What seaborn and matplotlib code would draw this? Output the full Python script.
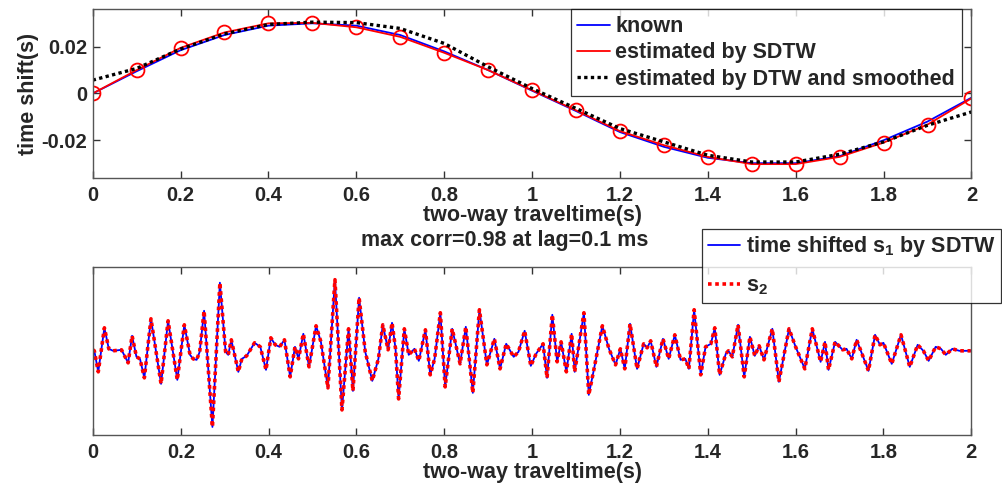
import matplotlib
matplotlib.use("Agg")
import matplotlib.pyplot as plt
import seaborn as sns

# ---- top panel: time shift curves (s) sampled every 0.1 s ----
shift_time = [0.0, 0.1, 0.2, 0.3, 0.4, 0.5, 0.6, 0.7, 0.8, 0.9, 1.0,
              1.1, 1.2, 1.3, 1.4, 1.5, 1.6, 1.7, 1.8, 1.9, 2.0]
known_shift = [0.0, 0.0095, 0.0185, 0.0250, 0.0290, 0.0300, 0.0290, 0.0250,
               0.0180, 0.0100, 0.0012, -0.0075, -0.0165, -0.0228, -0.0275,
               -0.0298, -0.0298, -0.0268, -0.0200, -0.0120, -0.0018]
sdtw_shift = [0.0, 0.0100, 0.0195, 0.0261, 0.0300, 0.0302, 0.0283, 0.0242,
              0.0174, 0.0100, 0.0014, -0.0072, -0.0161, -0.0221, -0.0271,
              -0.0302, -0.0302, -0.0271, -0.0210, -0.0133, -0.0021]
dtw_shift = [0.0057, 0.0107, 0.0190, 0.0255, 0.0295, 0.0305, 0.0303, 0.0278,
             0.0214, 0.0114, 0.0021, -0.0064, -0.0150, -0.0207, -0.0264,
             -0.0293, -0.0293, -0.0260, -0.0207, -0.0136, -0.0079]

shift_xticks = [0, 0.2, 0.4, 0.6, 0.8, 1.0, 1.2, 1.4, 1.6, 1.8, 2.0]
shift_xticklabels = ["0", "0.2", "0.4", "0.6", "0.8", "1", "1.2", "1.4", "1.6", "1.8", "2"]
shift_yticks = [-0.02, 0, 0.02]
shift_yticklabels = ["-0.02", "0", "0.02"]

# ---- bottom panel: trace turning points (arbitrary amplitude) ----
trace_time = [
    0.000, 0.003, 0.012, 0.026, 0.036, 0.046, 0.065, 0.080, 0.089, 0.099,
    0.107, 0.117, 0.132, 0.155, 0.171, 0.192, 0.208, 0.221, 0.228, 0.236,
    0.243, 0.253, 0.272, 0.289, 0.302, 0.308, 0.315, 0.331, 0.339, 0.350,
    0.368, 0.381, 0.394, 0.405, 0.415, 0.425, 0.436, 0.449, 0.460, 0.468,
    0.479, 0.492, 0.508, 0.519, 0.535, 0.551, 0.567, 0.582, 0.592, 0.606,
    0.620, 0.636, 0.650, 0.660, 0.672, 0.681, 0.689, 0.696, 0.709, 0.719,
    0.732, 0.742, 0.757, 0.768, 0.778, 0.791, 0.802, 0.818, 0.836, 0.849,
    0.865, 0.880, 0.897, 0.914, 0.927, 0.941, 0.958, 0.969, 0.983, 0.997,
    1.009, 1.025, 1.034, 1.046, 1.057, 1.066, 1.078, 1.090, 1.097, 1.118,
    1.129, 1.141, 1.160, 1.175, 1.190, 1.201, 1.211, 1.223, 1.239, 1.254,
    1.262, 1.270, 1.283, 1.298, 1.311, 1.325, 1.338, 1.349, 1.357, 1.369,
    1.384, 1.395, 1.407, 1.416, 1.427, 1.441, 1.447, 1.456, 1.469, 1.483,
    1.496, 1.507, 1.517, 1.528, 1.547, 1.562, 1.585, 1.600, 1.621, 1.638,
    1.657, 1.667, 1.675, 1.690, 1.707, 1.716, 1.728, 1.739, 1.766, 1.781,
    1.792, 1.800, 1.819, 1.840, 1.860, 1.878, 1.891, 1.903, 1.919, 1.931,
    1.942, 1.957, 1.973, 1.999,
]
trace_amp = [
    1, 0, -21, 23, 2, 0, 1, -12, 15, -6,
    -8, -27, 32, -33, 30, -29, 26, -4, -8, -9,
    -1, 40, -76, 68, -1, -4, 11, -21, -8, -5,
    8, 4, -19, 13, 6, 4, 11, -26, 4, -8,
    17, -16, 25, 9, -37, 71, -59, 22, -40, 53,
    -1, -30, -8, 26, 1, 28, 2, -48, 22, -4,
    2, -10, 21, -24, -8, 38, -36, 22, -13, 24,
    -42, 41, -14, 12, -18, 7, -6, -1, 20, -15,
    -3, 7, -27, 36, -11, 9, -21, 17, -21, 38,
    -44, -18, 25, 2, -14, 2, -18, 27, -18, 7,
    3, 10, -16, 12, -8, 16, -9, -8, -18, 41,
    -24, 4, 7, 23, -24, -3, 0, -6, 26, -26,
    14, -5, 5, -9, 22, -31, 22, 4, -18, 22,
    -11, 9, -19, 9, 1, 2, -8, 11, -20, 16,
    6, 8, -13, 16, -16, 6, 0, -10, 4, 2,
    -4, 2, 0, 0,
]

sns.set_style("white")
plt.rcParams["font.family"] = ["Liberation Sans", "DejaVu Sans"]
plt.rcParams["font.weight"] = "bold"
plt.rcParams["mathtext.default"] = "regular"

LABEL_FS = 15.5
TICK_FS = 14.5
LEG_FS = 15.5

fig = plt.figure(figsize=(10.02, 4.86), dpi=100)
ax1 = fig.add_axes([0.0925, 0.6344, 0.877, 0.3465])
ax2 = fig.add_axes([0.0928, 0.105, 0.8765, 0.3463])

# top panel
sns.lineplot(x=shift_time, y=known_shift, color="#0000ff", lw=1.3,
             label="known", ax=ax1)
sns.lineplot(x=shift_time, y=sdtw_shift, color="#ff0000", lw=1.3,
             label="estimated by SDTW", ax=ax1)
sns.lineplot(x=shift_time, y=sdtw_shift, color="#ff0000", ls="none",
             marker="o", ms=10, mfc="none", mec="#ff0000", mew=1.3, ax=ax1)
sns.lineplot(x=shift_time, y=dtw_shift, color="black", lw=2.4, ls=(0, (1, 1)),
             label="estimated by DTW and smoothed", ax=ax1)
ax1.set_xlim(0, 2)
ax1.set_ylim(-0.036, 0.036)
ax1.set_xticks(shift_xticks, shift_xticklabels)
ax1.set_yticks(shift_yticks, shift_yticklabels)
ax1.set_xlabel("two-way traveltime(s)", fontsize=LABEL_FS, fontweight="bold", labelpad=0)
ax1.set_ylabel("time shift(s)", fontsize=LABEL_FS, fontweight="bold", labelpad=2)
leg1 = ax1.legend(loc="upper right", bbox_to_anchor=(0.989, 1.0), borderaxespad=0,
                  fontsize=LEG_FS, frameon=True, fancybox=False, edgecolor="black",
                  handlelength=1.5, handletextpad=0.25, labelspacing=0.24,
                  borderpad=0.32)
leg1.get_frame().set_linewidth(0.9)
for t in leg1.get_texts():
    t.set_fontweight("bold")

# bottom panel
sns.lineplot(x=trace_time, y=trace_amp, color="#0000ff", lw=1.3,
             label="time shifted s$_1$ by SDTW", ax=ax2)
sns.lineplot(x=trace_time, y=trace_amp, color="#ff0000", lw=2.6, ls=(0, (1, 1)),
             label="s$_2$", ax=ax2)
ax2.set_xlim(0, 2)
ax2.set_ylim(-84, 84)
ax2.set_xticks(shift_xticks, shift_xticklabels)
ax2.set_yticks([])
ax2.set_xlabel("two-way traveltime(s)", fontsize=LABEL_FS, fontweight="bold", labelpad=0)
leg2 = ax2.legend(loc="upper right", bbox_to_anchor=(1001 / 1002, 1 - 229 / 486),
                  bbox_transform=fig.transFigure, borderaxespad=0,
                  fontsize=LEG_FS, frameon=True, fancybox=False, edgecolor="black",
                  handlelength=1.5, handletextpad=0.25, labelspacing=0.75,
                  borderpad=0.25)
leg2.get_frame().set_linewidth(0.9)
for t in leg2.get_texts():
    t.set_fontweight("bold")

fig.text(505 / 1002, 1 - 240 / 486, "max corr=0.98 at lag=0.1 ms",
         ha="center", va="center", fontsize=LABEL_FS, fontweight="bold")

for ax in (ax1, ax2):
    for sp in ax.spines.values():
        sp.set_color("#555555")
        sp.set_linewidth(1.0)
    ax.tick_params(direction="in", length=5, width=1, color="#333333",
                   labelsize=TICK_FS, pad=6, top=True, bottom=True)
    for lab in ax.get_xticklabels() + ax.get_yticklabels():
        lab.set_fontweight("bold")
ax1.tick_params(axis="y", left=True, right=True, pad=4)
ax2.tick_params(axis="y", left=False, right=False)

fig.savefig("out.png", dpi=100)
